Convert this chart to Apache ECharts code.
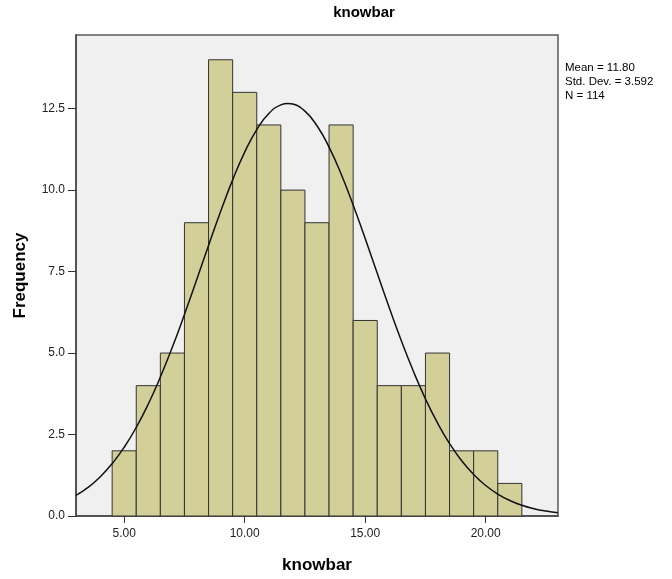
<!DOCTYPE html>
<html>
<head>
<meta charset="utf-8">
<script src="https://cdn.jsdelivr.net/npm/echarts@6/dist/echarts.min.js"></script>
<style>html,body{margin:0;padding:0;background:#fff}#c{width:672px;height:579px}</style>
</head>
<body>
<div id="c"></div>
<script>
// Histogram bins (lower edges, width 1) and frequencies
const binStarts = [4.5, 5.5, 6.5, 7.5, 8.5, 9.5, 10.5, 11.5, 12.5, 13.5, 14.5, 15.5, 16.5, 17.5, 18.5, 19.5, 20.5];
const binWidth = 1;
const counts = [2, 4, 5, 9, 14, 13, 12, 10, 9, 12, 6, 4, 4, 5, 2, 2, 1];
// Normal curve points
const curveX = [3, 3.5, 4, 4.5, 5, 5.5, 6, 6.5, 7, 7.5, 8, 8.5, 9, 9.5, 10, 10.5, 11, 11.5, 11.8, 12, 12.5, 13, 13.5, 14, 14.5, 15, 15.5, 16, 16.5, 17, 17.5, 18, 18.5, 19, 19.5, 20, 20.5, 21, 21.5, 22, 22.5, 23];
const curveY = [0.630, 0.877, 1.198, 1.606, 2.110, 2.719, 3.438, 4.263, 5.184, 6.184, 7.235, 8.302, 9.344, 10.314, 11.167, 11.858, 12.351, 12.617, 12.661, 12.641, 12.423, 11.974, 11.320, 10.496, 9.545, 8.514, 7.449, 6.391, 5.379, 4.440, 3.595, 2.855, 2.223, 1.698, 1.272, 0.935, 0.674, 0.476, 0.330, 0.225, 0.150, 0.098];
// Tick values
const xTicks = [5, 10, 15, 20];
const yTicks = [0, 2.5, 5, 7.5, 10, 12.5];
const statsLines = ['Mean = 11.80', 'Std. Dev. = 3.592', 'N = 114'];

const font = '"Liberation Sans", Arial, sans-serif';
const chart = echarts.init(document.getElementById('c'), null, {renderer: 'canvas'});

const barData = binStarts.map((s, i) => [s, s + binWidth, counts[i]]);
const lineData = curveX.map((x, i) => [x, curveY[i]]);

chart.setOption({
  animation: false,
  backgroundColor: '#ffffff',
  grid: {left: 76, right: 114, top: 35, bottom: 56, show: true, backgroundColor: '#f0f0f0', borderColor: '#5a5a5a', borderWidth: 1.5},
  graphic: [
    {type: 'text', x: 364, y: 13, style: {text: 'knowbar', font: 'bold 15px ' + font, fill: '#000', align: 'center', verticalAlign: 'middle'}},
    {type: 'text', x: 565, y: 61, style: {text: statsLines.join('\n'), font: '11.5px ' + font, fill: '#000', lineHeight: 14, align: 'left', verticalAlign: 'top'}}
  ],
  xAxis: {
    type: 'value', min: 3, max: 23,
    name: 'knowbar', nameLocation: 'middle', nameGap: 41,
    nameTextStyle: {fontFamily: font, fontWeight: 'bold', fontSize: 17, color: '#000'},
    axisLine: {show: true, onZero: false, lineStyle: {color: '#444', width: 1.5}},
    axisTick: {show: true, length: 7, customValues: xTicks, lineStyle: {color: '#333'}},
    axisLabel: {customValues: xTicks, formatter: v => v.toFixed(2), fontFamily: font, fontSize: 12, color: '#222', margin: 12},
    splitLine: {show: false}
  },
  yAxis: {
    type: 'value', min: 0, max: 14.76,
    name: 'Frequency', nameLocation: 'middle', nameGap: 47, nameRotate: 90,
    nameTextStyle: {fontFamily: font, fontWeight: 'bold', fontSize: 17, color: '#000'},
    axisLine: {show: true, lineStyle: {color: '#444', width: 1.5}},
    axisTick: {show: true, length: 8, customValues: yTicks, lineStyle: {color: '#333'}},
    axisLabel: {customValues: yTicks, formatter: v => v.toFixed(1), fontFamily: font, fontSize: 12, color: '#222', margin: 11},
    splitLine: {show: false}
  },
  series: [
    {
      type: 'custom',
      data: barData,
      encode: {x: [0, 1], y: 2},
      renderItem: function (params, api) {
        const p0 = api.coord([api.value(0), api.value(2)]);
        const p1 = api.coord([api.value(1), 0]);
        return {
          type: 'rect',
          shape: {x: p0[0], y: p0[1], width: p1[0] - p0[0], height: p1[1] - p0[1]},
          style: {fill: '#d3cf99', stroke: '#333', lineWidth: 1}
        };
      },
      z: 2
    },
    {
      type: 'line', data: lineData, smooth: true, showSymbol: false,
      lineStyle: {color: '#111', width: 1.5}, z: 3
    }
  ]
});
</script>
</body>
</html>
